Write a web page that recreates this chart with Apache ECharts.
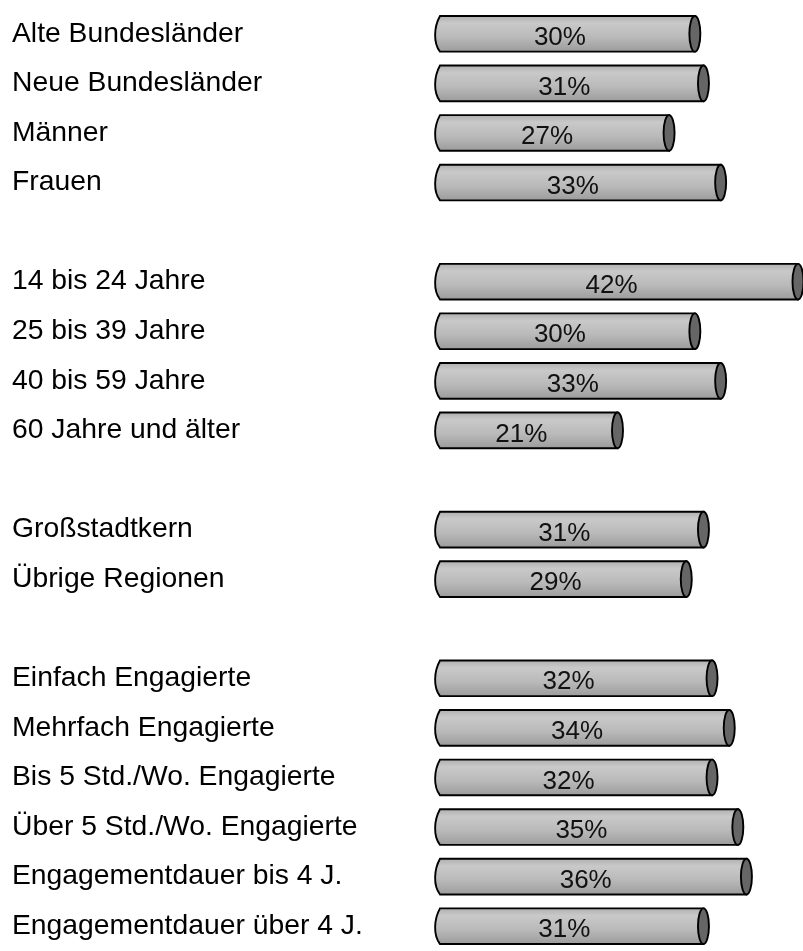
<!DOCTYPE html>
<html>
<head>
<meta charset="utf-8">
<script src="https://cdn.jsdelivr.net/npm/echarts@6/dist/echarts.min.js"></script>
<style>
  html, body { margin: 0; padding: 0; background: #fff; }
  #chart { width: 803px; height: 951px; }
</style>
</head>
<body>
<div id="chart"></div>
<script>
// empty strings are the gaps between the groups
const categories = [
  'Alte Bundesländer', 'Neue Bundesländer', 'Männer', 'Frauen', '',
  '14 bis 24 Jahre', '25 bis 39 Jahre', '40 bis 59 Jahre', '60 Jahre und älter', '',
  'Großstadtkern', 'Übrige Regionen', '',
  'Einfach Engagierte', 'Mehrfach Engagierte', 'Bis 5 Std./Wo. Engagierte',
  'Über 5 Std./Wo. Engagierte', 'Engagementdauer bis 4 J.', 'Engagementdauer über 4 J.'
];
const values = [
  30, 31, 27, 33, null,
  42, 30, 33, 21, null,
  31, 29, null,
  32, 34, 32, 35, 36, 31
];

const chart = echarts.init(document.getElementById('chart'));

const data = [];
values.forEach((v, i) => { if (v != null) data.push([v, i]); });

function renderCylinder(params, api) {
  const v = api.value(0);
  const i = api.value(1);
  const start = api.coord([0, i]);
  const end = api.coord([v, i]);
  const h = api.size([0, 1])[1] * 0.72;
  const yc = start[1];
  const y0 = yc - h / 2;
  const y1 = yc + h / 2;
  const x0 = start[0];
  const xe = end[0];
  const mid = api.coord([v / 2, i])[0];

  // body with a slightly wavy left end
  const body = 'M' + (x0 + 3) + ' ' + y0 +
    ' L' + xe + ' ' + y0 +
    ' L' + xe + ' ' + y1 +
    ' L' + (x0 + 3) + ' ' + y1 +
    ' C' + (x0 - 4) + ' ' + (yc + h * 0.25) + ' ' + (x0 - 3) + ' ' + (yc - h * 0.2) + ' ' + (x0 + 3) + ' ' + y0 + ' Z';

  return {
    type: 'group',
    children: [
      {
        type: 'path',
        shape: { pathData: body },
        style: {
          fill: new echarts.graphic.LinearGradient(0, 0, 0, 1, [
            { offset: 0, color: '#adadad' },
            { offset: 0.22, color: '#c9c9c9' },
            { offset: 0.6, color: '#b9b9b9' },
            { offset: 1, color: '#9a9a9a' }
          ]),
          stroke: '#000',
          lineWidth: 1.9
        }
      },
      {
        type: 'ellipse',
        shape: { cx: xe, cy: yc, rx: 5.5, ry: h / 2 },
        style: { fill: '#666666', stroke: '#000', lineWidth: 1.9 }
      },
      {
        type: 'text',
        style: {
          text: v + '%',
          x: mid - 6,
          y: yc + 4,
          align: 'center',
          verticalAlign: 'middle',
          fill: '#111',
          font: '26px "Liberation Sans", Arial, sans-serif'
        }
      }
    ]
  };
}

chart.setOption({
  animation: false,
  grid: { left: 437, width: 361, top: 9, height: 942 },
  xAxis: { type: 'value', min: 0, max: 42, show: false },
  yAxis: {
    type: 'category',
    data: categories,
    inverse: true,
    axisLine: { show: false },
    axisTick: { show: false },
    splitLine: { show: false },
    axisLabel: {
      interval: 0,
      align: 'left',
      margin: 425,
      color: '#000',
      fontSize: 28.3,
      fontFamily: '"Liberation Sans", Arial, sans-serif'
    }
  },
  series: [{
    type: 'custom',
    renderItem: renderCylinder,
    clip: false,
    data: data
  }]
});
</script>
</body>
</html>
